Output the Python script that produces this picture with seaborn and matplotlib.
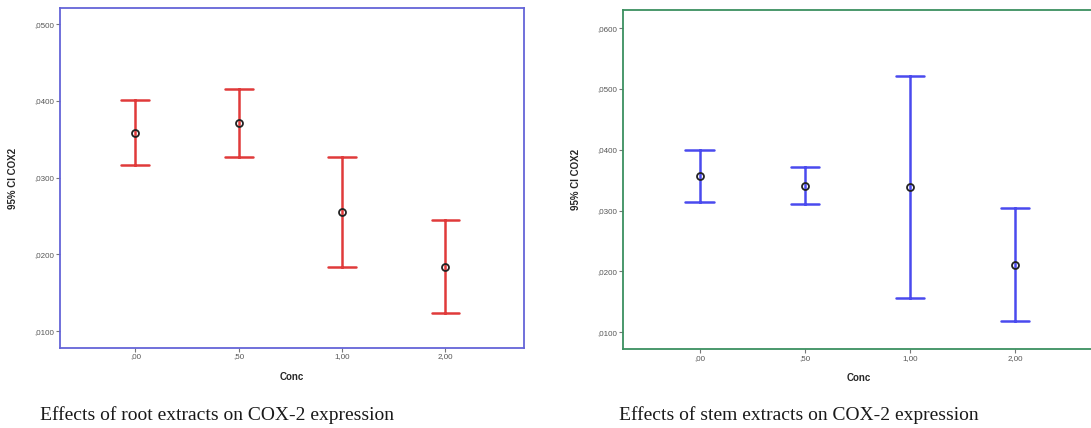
import pandas as pd
import matplotlib.pyplot as plt
import seaborn as sns

# Concentration groups (x categories)
conc = [',00', ',50', '1,00', '2,00']

# Root extracts: mean and 95% CI of COX2
root_mean = [0.0358, 0.0371, 0.0255, 0.0184]
root_low = [0.0316, 0.0327, 0.0184, 0.0123]
root_high = [0.0402, 0.0416, 0.0327, 0.0245]

# Stem extracts: mean and 95% CI of COX2
stem_mean = [0.0357, 0.0341, 0.0338, 0.0210]
stem_low = [0.0314, 0.0311, 0.0156, 0.0118]
stem_high = [0.0400, 0.0371, 0.0522, 0.0304]

root_yticks = [0.01, 0.02, 0.03, 0.04, 0.05]
root_yticklabels = [',0100', ',0200', ',0300', ',0400', ',0500']
stem_yticks = [0.01, 0.02, 0.03, 0.04, 0.05, 0.06]
stem_yticklabels = [',0100', ',0200', ',0300', ',0400', ',0500', ',0600']

captions = ['Effects of root extracts on COX-2 expression',
            'Effects of stem extracts on COX-2 expression']


def long_table(low, mean, high):
    # three rows per group: the median is the mean, the full range is the CI
    rows = []
    for c, lo, m, hi in zip(conc, low, mean, high):
        for v in (lo, m, hi):
            rows.append({'Conc': c, 'COX2': v})
    return pd.DataFrame(rows)


sns.set_style('white')
plt.rcParams['font.family'] = ['Liberation Sans', 'DejaVu Sans']

fig = plt.figure(figsize=(10.91, 4.28), dpi=100)
ax1 = fig.add_axes([0.055, 0.187, 0.4253, 0.7937])
ax2 = fig.add_axes([0.5708, 0.184, 0.433, 0.793])

panels = [
    (ax1, long_table(root_low, root_mean, root_high), '#e03a3a', '#6464d8',
     (0.0078, 0.0521), root_yticks, root_yticklabels),
    (ax2, long_table(stem_low, stem_mean, stem_high), '#4a4aee', '#3c9060',
     (0.0072, 0.0630), stem_yticks, stem_yticklabels),
]

for ax, df, bar_color, frame_color, ylim, yticks, yticklabels in panels:
    # CI bars
    sns.pointplot(data=df, x='Conc', y='COX2', order=conc, ax=ax,
                  estimator='median', errorbar=('pi', 100), capsize=0.27,
                  color=bar_color, linestyle='none', marker='',
                  err_kws={'linewidth': 1.8})
    # mean markers
    sns.pointplot(data=df, x='Conc', y='COX2', order=conc, ax=ax,
                  estimator='median', errorbar=None, color='#222222',
                  linestyle='none', marker='o', markersize=5,
                  markerfacecolor='none', markeredgewidth=1.3)

    ax.set_xlim(-0.73, 3.76)
    ax.set_ylim(*ylim)
    ax.set_yticks(yticks)
    ax.set_yticklabels(yticklabels)
    ax.tick_params(axis='both', which='both', direction='out', length=3,
                   width=0.8, color='#777777', labelsize=5.8,
                   labelcolor='#555555', pad=1, left=True, bottom=True)
    ax.set_xlabel('Conc', fontsize=7, fontweight='bold', labelpad=8)
    ax.set_ylabel('95% CI COX2', fontsize=7, fontweight='bold', labelpad=12)
    for s in ax.spines.values():
        s.set_visible(True)
        s.set_color(frame_color)
        s.set_linewidth(1.3)

fig.text(0.199, 0.019, captions[0], ha='center', va='baseline',
         fontsize=14, color='#1a1a1a', family=['Liberation Serif', 'DejaVu Serif'])
fig.text(0.732, 0.019, captions[1], ha='center', va='baseline',
         fontsize=14, color='#1a1a1a', family=['Liberation Serif', 'DejaVu Serif'])

fig.savefig('out.png', dpi=100)
